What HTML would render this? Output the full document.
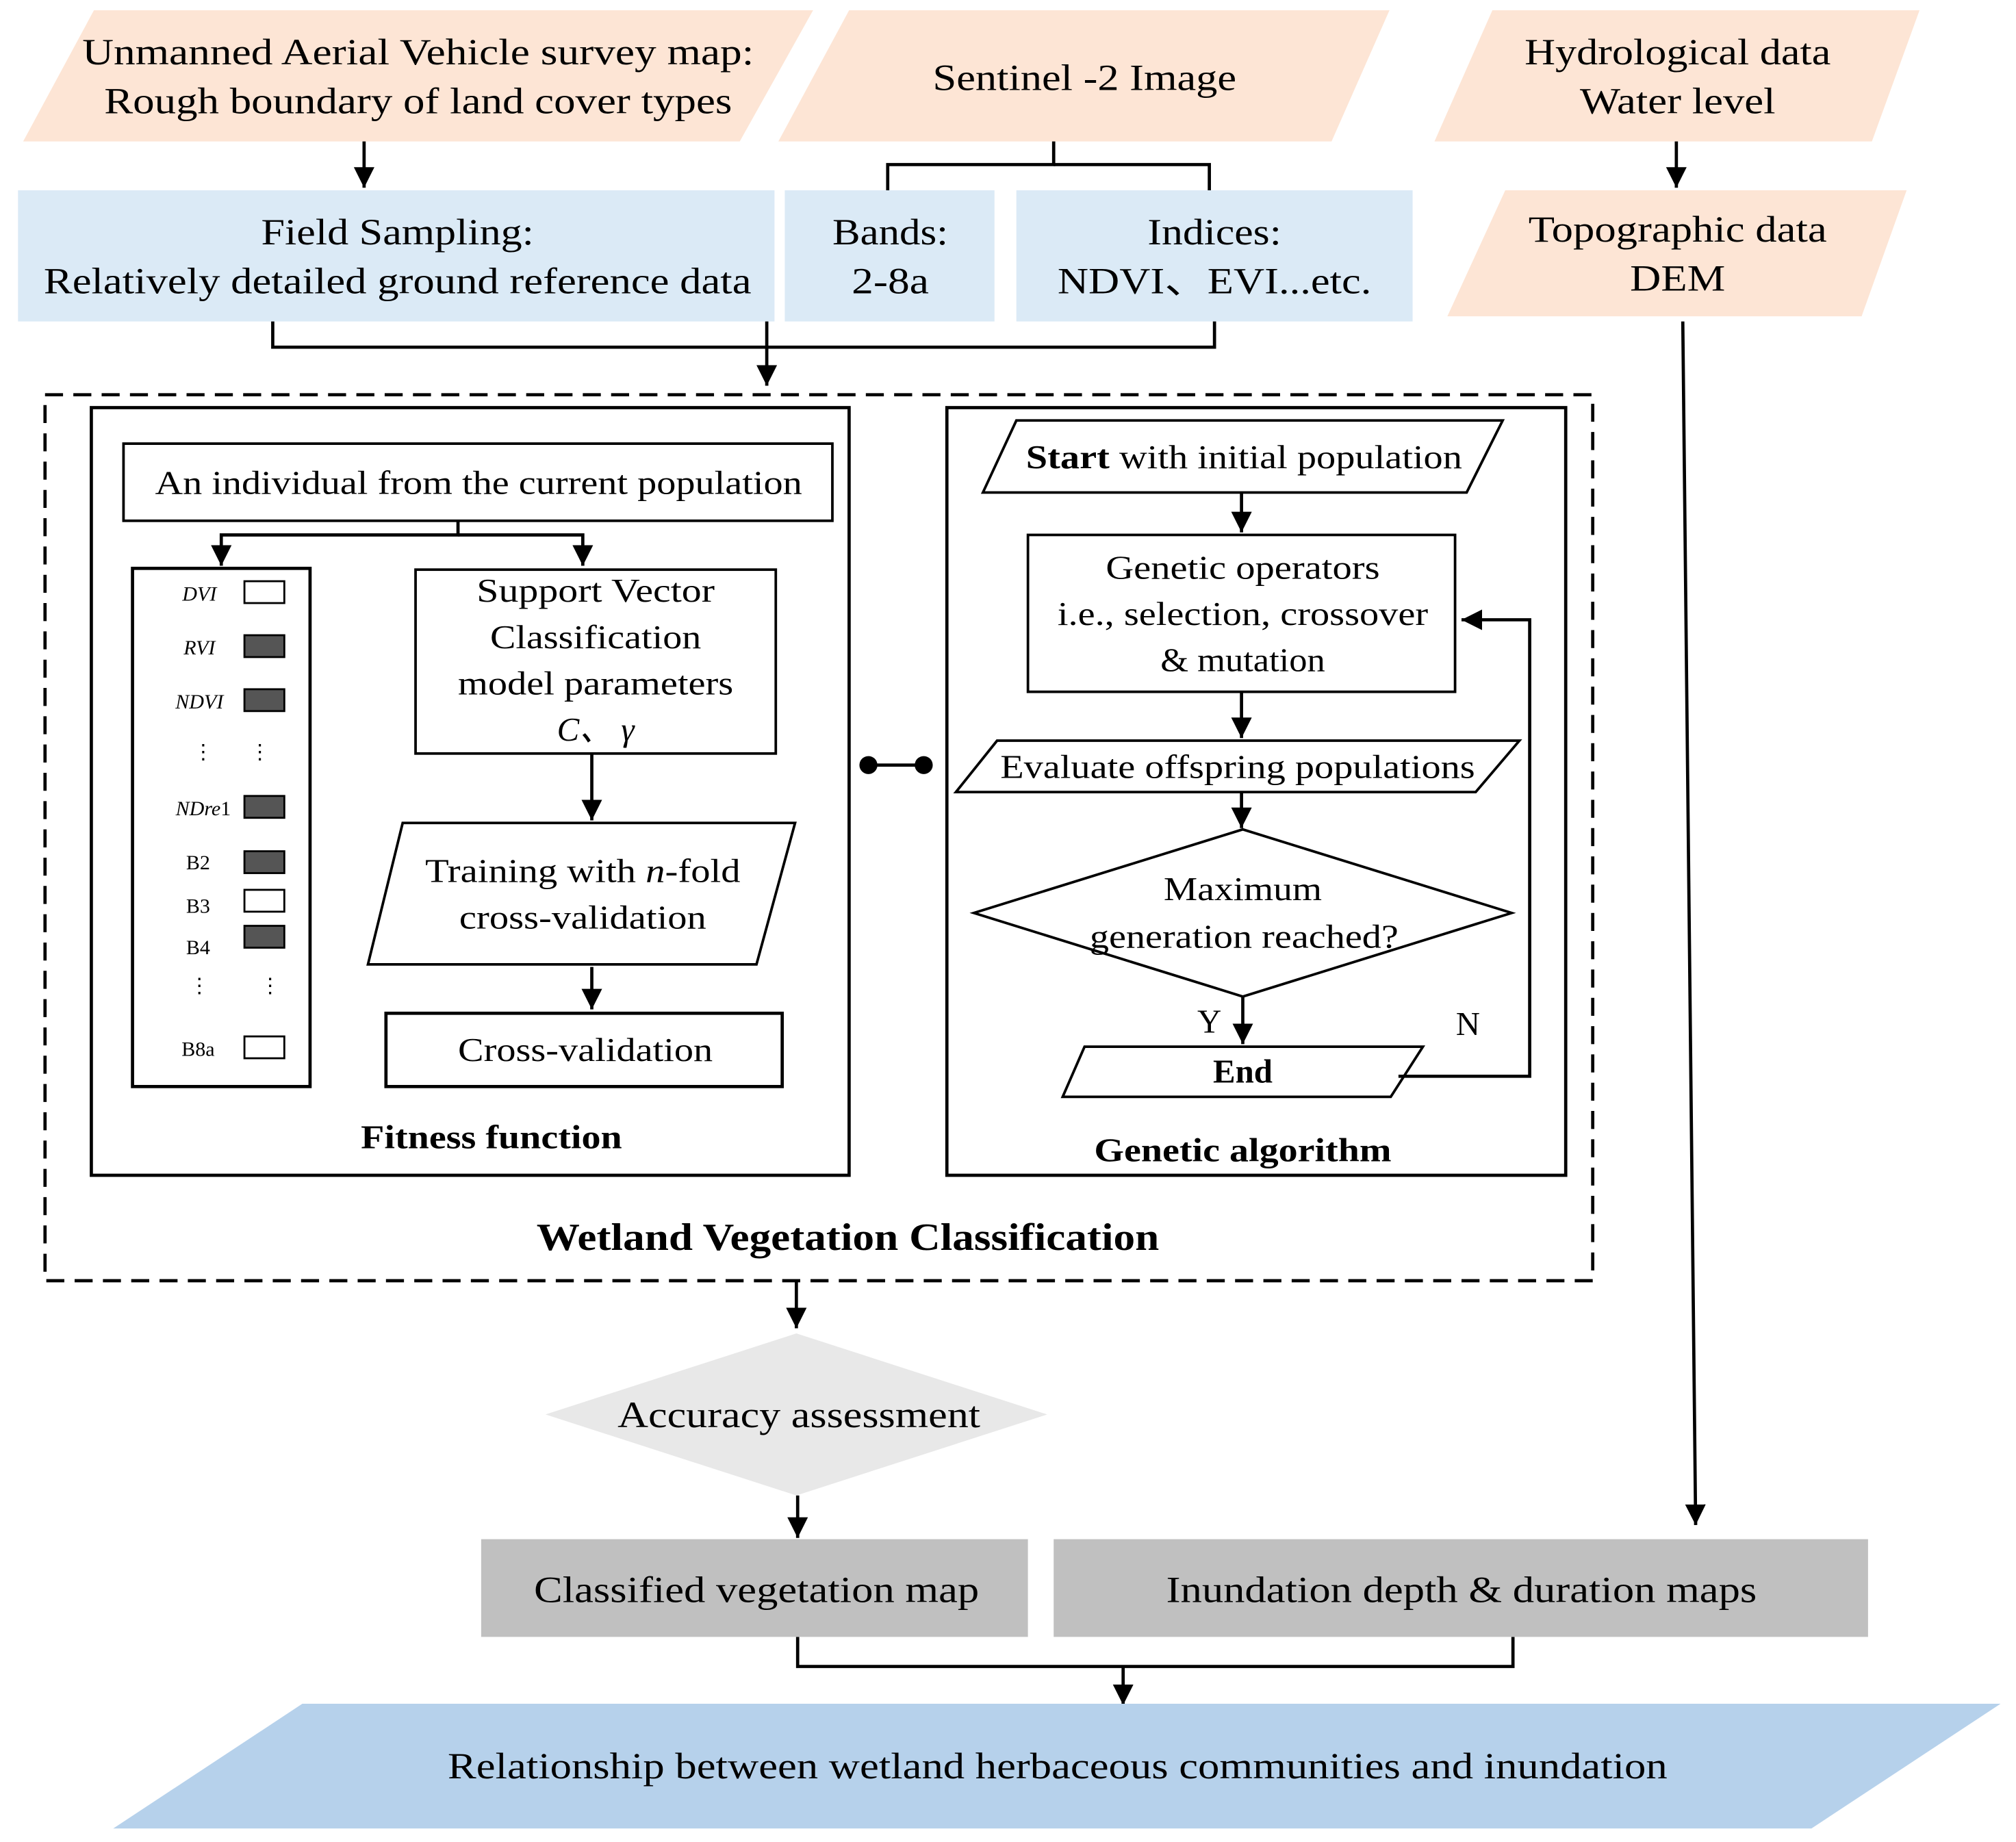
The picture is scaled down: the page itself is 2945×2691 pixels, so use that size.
<!DOCTYPE html>
<html><head><meta charset="utf-8"><style>html,body{margin:0;padding:0;background:#fff}svg{display:block}text{font-family:"Liberation Serif",serif;fill:#000}</style></head><body>
<svg width="2945" height="2691" viewBox="0 0 1567 1432.5" preserveAspectRatio="none" xmlns="http://www.w3.org/2000/svg">
<defs>
<marker id="b" viewBox="0 0 10 10" refX="10" refY="5" markerWidth="16" markerHeight="16" orient="auto" markerUnits="userSpaceOnUse"><path d="M0,0L10,5L0,10z" fill="#000"/></marker></defs>
<g font-size="29" text-anchor="middle">
<polygon points="18,110 73,8 632,8 575,110" fill="#fde5d5"/>
<text x="325" y="50" textLength="522" lengthAdjust="spacingAndGlyphs">Unmanned Aerial Vehicle survey map:</text>
<text x="325" y="88" textLength="488" lengthAdjust="spacingAndGlyphs">Rough boundary of land cover types</text>
<polygon points="605,110 660,8 1080,8 1035,110" fill="#fde5d5"/>
<text x="843" y="70" textLength="236" lengthAdjust="spacingAndGlyphs">Sentinel -2 Image</text>
<polygon points="1115,110 1160,8 1492,8 1455,110" fill="#fde5d5"/>
<text x="1304" y="50" textLength="238" lengthAdjust="spacingAndGlyphs">Hydrological data</text>
<text x="1304" y="88" textLength="152" lengthAdjust="spacingAndGlyphs">Water level</text>
<rect x="14" y="148" width="588" height="102" fill="#dbeaf6"/>
<text x="309" y="190" textLength="212" lengthAdjust="spacingAndGlyphs">Field Sampling:</text>
<text x="309" y="228" textLength="550" lengthAdjust="spacingAndGlyphs">Relatively detailed ground reference data</text>
<rect x="610" y="148" width="163" height="102" fill="#dbeaf6"/>
<text x="692" y="190" textLength="90" lengthAdjust="spacingAndGlyphs">Bands:</text><text x="692" y="228" textLength="60" lengthAdjust="spacingAndGlyphs">2-8a</text>
<rect x="790" y="148" width="308" height="102" fill="#dbeaf6"/>
<text x="944" y="190" textLength="104" lengthAdjust="spacingAndGlyphs">Indices:</text>
<text x="944" y="228" font-family="Liberation Serif, Noto Serif CJK SC, serif" textLength="244" lengthAdjust="spacingAndGlyphs">NDVI、EVI...etc.</text>
<polygon points="1125,246 1170,148 1482,148 1447,246" fill="#fde5d5"/>
<text x="1304" y="188" textLength="232" lengthAdjust="spacingAndGlyphs">Topographic data</text><text x="1304" y="226" textLength="74" lengthAdjust="spacingAndGlyphs">DEM</text>
</g>
<g stroke="#000" stroke-width="2.5" fill="none">
<line x1="283" y1="110" x2="283" y2="146" marker-end="url(#b)"/>
<line x1="1303" y1="110" x2="1303" y2="146" marker-end="url(#b)"/>
<polyline points="819,110 819,128 690,128 690,148"/><polyline points="819,128 940,128 940,148"/>
<polyline points="212,250 212,270 944,270 944,250"/>
<line x1="596" y1="250" x2="596" y2="300" marker-end="url(#b)"/>
<line x1="1308" y1="250" x2="1318" y2="1186" marker-end="url(#b)"/>
<rect x="35" y="307" width="1203" height="689" stroke-dasharray="14,8"/>
<rect x="71" y="317" width="589" height="597"/>
<rect x="96" y="345" width="551" height="60" stroke-width="2"/>
<polyline points="356,405 356,416 172,416 172,440" marker-end="url(#b)"/>
<polyline points="356,416 453,416 453,440" marker-end="url(#b)"/>
<rect x="103" y="442" width="138" height="403"/>
<rect x="323" y="443" width="280" height="143" stroke-width="2"/>
<line x1="460" y1="586" x2="460" y2="638" marker-end="url(#b)"/>
<polygon points="286,750 313,640 618,640 588,750" stroke-width="2"/>
<line x1="460" y1="752" x2="460" y2="785" marker-end="url(#b)"/>
<rect x="300" y="788" width="308" height="57"/>
<line x1="675" y1="595" x2="718" y2="595"/>
<rect x="736" y="317" width="481" height="597"/>
<polygon points="764,383 790,327 1168,327 1140,383" stroke-width="2"/>
<line x1="965" y1="383" x2="965" y2="414" marker-end="url(#b)"/>
<rect x="799" y="416" width="332" height="122" stroke-width="2"/>
<line x1="965" y1="538" x2="965" y2="574" marker-end="url(#b)"/>
<polygon points="743,616 775,576 1181,576 1147,616" stroke-width="2"/>
<line x1="965" y1="616" x2="965" y2="644" marker-end="url(#b)"/>
<polygon points="966,645 1175,710 966,775 757,710" stroke-width="2"/>
<line x1="966" y1="775" x2="966" y2="812" marker-end="url(#b)"/>
<polygon points="826,853 843,814 1106,814 1081,853" stroke-width="2"/>
<polyline points="1087,837 1189,837 1189,482 1136,482" marker-end="url(#b)"/>
<line x1="619" y1="996" x2="619" y2="1033" marker-end="url(#b)"/>
<line x1="620" y1="1163" x2="620" y2="1196" marker-end="url(#b)"/>
<polyline points="620,1273 620,1296 1176,1296 1176,1273"/>
<line x1="873" y1="1296" x2="873" y2="1326" marker-end="url(#b)"/>
</g>
<circle cx="675" cy="595" r="7"/><circle cx="718" cy="595" r="7"/>
<g font-size="26" text-anchor="middle">
<text x="372" y="384" textLength="503" lengthAdjust="spacingAndGlyphs">An individual from the current population</text>
<text x="463" y="468" textLength="185" lengthAdjust="spacingAndGlyphs">Support Vector</text>
<text x="463" y="504" textLength="164" lengthAdjust="spacingAndGlyphs">Classification</text>
<text x="463" y="540" textLength="214" lengthAdjust="spacingAndGlyphs">model parameters</text>
<text x="463" y="576" font-style="italic">C、 γ</text>
<text x="453" y="686" textLength="245" lengthAdjust="spacingAndGlyphs">Training with <tspan font-style="italic">n</tspan>-fold</text>
<text x="453" y="722" textLength="192" lengthAdjust="spacingAndGlyphs">cross-validation</text>
<text x="455" y="825" textLength="198" lengthAdjust="spacingAndGlyphs">Cross-validation</text>
<text x="382" y="893" font-weight="bold" textLength="203" lengthAdjust="spacingAndGlyphs">Fitness function</text>
<text x="967" y="364" textLength="339" lengthAdjust="spacingAndGlyphs"><tspan font-weight="bold">Start</tspan> with initial population</text>
<text x="966" y="450" textLength="213" lengthAdjust="spacingAndGlyphs">Genetic operators</text>
<text x="966" y="486" textLength="288" lengthAdjust="spacingAndGlyphs">i.e., selection, crossover</text>
<text x="966" y="522" textLength="128" lengthAdjust="spacingAndGlyphs">&amp; mutation</text>
<text x="962" y="605" textLength="369" lengthAdjust="spacingAndGlyphs">Evaluate offspring populations</text>
<text x="966" y="700" textLength="123" lengthAdjust="spacingAndGlyphs">Maximum</text>
<text x="967" y="737" textLength="240" lengthAdjust="spacingAndGlyphs">generation reached?</text>
<text x="940" y="803">Y</text><text x="1141" y="805">N</text>
<text x="966" y="842" font-weight="bold">End</text>
<text x="966" y="903" font-weight="bold" textLength="231" lengthAdjust="spacingAndGlyphs">Genetic algorithm</text>
<text x="659" y="972" font-size="30" font-weight="bold" textLength="484" lengthAdjust="spacingAndGlyphs">Wetland Vegetation Classification</text>
</g>
<g font-size="16" text-anchor="middle">
<text x="155" y="467" font-style="italic">DVI</text>
<text x="155" y="509" font-style="italic">RVI</text>
<text x="155" y="551" font-style="italic">NDVI</text>
<text x="158" y="590">⋮</text><text x="202" y="590">⋮</text>
<text x="158" y="634"><tspan font-style="italic">NDre</tspan>1</text>
<text x="154" y="676">B2</text><text x="154" y="710">B3</text><text x="154" y="742">B4</text>
<text x="155" y="772">⋮</text><text x="210" y="772">⋮</text>
<text x="154" y="821">B8a</text>
</g>
<g stroke="#000" stroke-width="1.5">
<rect x="190" y="452" width="31" height="17" fill="#fff"/>
<rect x="190" y="494" width="31" height="17" fill="#555"/>
<rect x="190" y="536" width="31" height="17" fill="#555"/>
<rect x="190" y="619" width="31" height="17" fill="#555"/>
<rect x="190" y="662" width="31" height="17" fill="#555"/>
<rect x="190" y="692" width="31" height="17" fill="#fff"/>
<rect x="190" y="720" width="31" height="17" fill="#555"/>
<rect x="190" y="806" width="31" height="17" fill="#fff"/>
</g>
<g font-size="29" text-anchor="middle">
<polygon points="619,1037 814,1100 619,1163 424,1100" fill="#e8e8e8"/>
<text x="621" y="1110" textLength="282" lengthAdjust="spacingAndGlyphs">Accuracy assessment</text>
<rect x="374" y="1197" width="425" height="76" fill="#c0c0c0"/>
<text x="588" y="1246" textLength="346" lengthAdjust="spacingAndGlyphs">Classified vegetation map</text>
<rect x="819" y="1197" width="633" height="76" fill="#c0c0c0"/>
<text x="1136" y="1246" textLength="459" lengthAdjust="spacingAndGlyphs">Inundation depth &amp; duration maps</text>
<polygon points="88,1422 235,1325 1555,1325 1408,1422" fill="#b6d1eb"/>
<text x="822" y="1383" textLength="948" lengthAdjust="spacingAndGlyphs">Relationship between wetland herbaceous communities and inundation</text>
</g>
</svg>
</body></html>
